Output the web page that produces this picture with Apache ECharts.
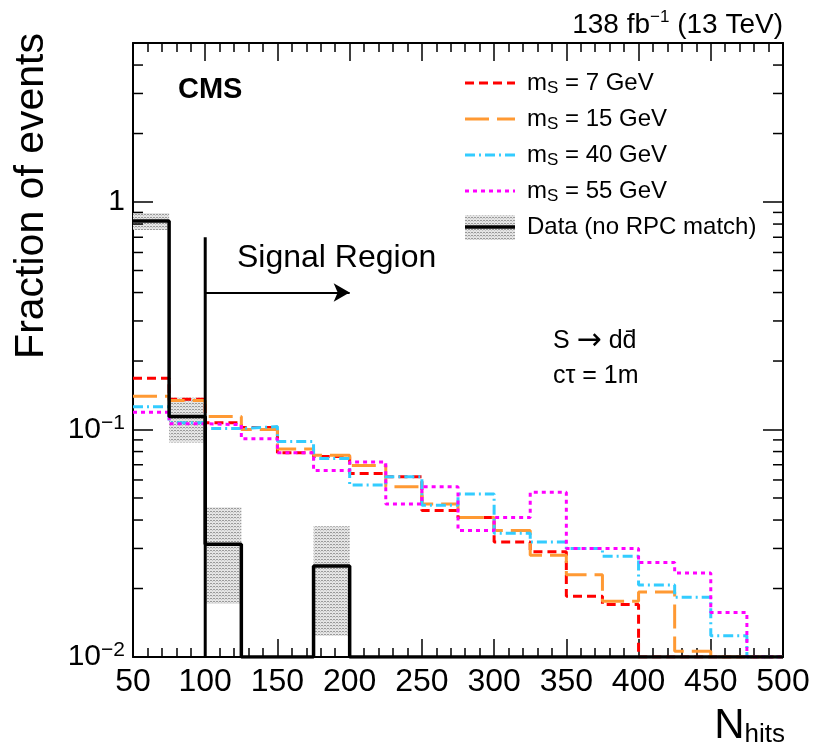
<!DOCTYPE html>
<html>
<head>
<meta charset="utf-8">
<script src="https://cdn.jsdelivr.net/npm/echarts@6/dist/echarts.min.js"></script>
<style>
  html, body { margin: 0; padding: 0; background: #fff; }
  #chart { width: 814px; height: 748px; }
</style>
</head>
<body>
<div id="chart"></div>
<script>
// bin left edges (25 hits wide), last edge closes the histogram
const binEdges = [50, 75, 100, 125, 150, 175, 200, 225, 250, 275, 300, 325, 350, 375, 400, 425, 450, 475];
const xMax = 500;
const yMin = 0.01;
const yMax = 5;

// fraction of events per bin
const ms7 = [0.168, 0.136, 0.107, 0.102, 0.079, 0.076, 0.064, 0.062, 0.044, 0.041, 0.032, 0.029, 0.0185, 0.017, 0, 0, 0, 0];
const ms15 = [0.140, 0.134, 0.114, 0.100, 0.082, 0.077, 0.0695, 0.056, 0.047, 0.041, 0.036, 0.028, 0.023, 0.0176, 0.0193, 0.0106, 0, 0];
const ms40 = [0.126, 0.107, 0.101, 0.103, 0.0886, 0.0746, 0.057, 0.062, 0.0465, 0.052, 0.035, 0.032, 0.030, 0.0277, 0.0207, 0.0183, 0.0124, 0];
const ms55 = [0.119, 0.106, 0.105, 0.091, 0.079, 0.066, 0.072, 0.047, 0.056, 0.036, 0.041, 0.053, 0.030, 0.030, 0.026, 0.0234, 0.0157, 0];
const dataVals = [0.826, 0.114, 0.0313, 0, 0, 0.0251, 0, 0, 0, 0, 0, 0, 0, 0, 0, 0, 0, 0];
const dataLo = [0.754, 0.0877, 0.0171, 0, 0, 0.0124, 0, 0, 0, 0, 0, 0, 0, 0, 0, 0, 0, 0];
const dataHi = [0.895, 0.138, 0.0455, 0, 0, 0.0376, 0, 0, 0, 0, 0, 0, 0, 0, 0, 0, 0, 0];

const massLabels = ['7', '15', '40', '55'];
const minorTickVals = [0.02, 0.03, 0.04, 0.05, 0.06, 0.07, 0.08, 0.09,
  0.2, 0.3, 0.4, 0.5, 0.6, 0.7, 0.8, 0.9, 2, 3, 4];

// signal region marker
const srLine = [[100, 0.7], [100, yMin]];
const srArrow = [[100, 0.4], [200, 0.4]];

const FONT = 'Liberation Sans, Arial, sans-serif';

// hatched fill like ROOT style 3001-ish
function makeHatch() {
  const c = document.createElement('canvas');
  c.width = 6; c.height = 3;
  const ctx = c.getContext('2d');
  ctx.fillStyle = '#e4e4e4';
  ctx.fillRect(0, 0, 6, 3);
  ctx.fillStyle = '#9a9a9a';
  [0, 1, 3, 4].forEach(x => ctx.fillRect(x, 1, 1, 1));
  ctx.fillStyle = '#c4c4c4';
  [2, 5].forEach(x => ctx.fillRect(x, 2, 1, 1));
  return { type: 'pattern', image: c, repeat: 'repeat' };
}
const hatch = makeHatch();

// histogram outline as step points
function steps(vals) {
  const pts = binEdges.map((x, i) => [x, Math.max(vals[i], yMin)]);
  pts.push([xMax, Math.max(vals[vals.length - 1], yMin)]);
  return pts;
}

function histSeries(name, vals, color, dash) {
  return {
    name: name,
    type: 'line',
    step: 'end',
    showSymbol: false,
    data: steps(vals),
    lineStyle: { color: color, width: 3, type: dash },
    z: 3,
  };
}

const signalStyles = [
  { color: '#ff0000', dash: [9, 5] },
  { color: '#ff9933', dash: [24, 8] },
  { color: '#33ccff', dash: [10, 4, 2, 4] },
  { color: '#ff00ff', dash: [4, 4] },
];

const bandData = binEdges
  .map((x, i) => [x, binEdges[i + 1] ?? xMax, dataLo[i], dataHi[i]])
  .filter(d => d[3] > 0);

const chart = echarts.init(document.getElementById('chart'));

const xAxisBase = {
  type: 'value',
  min: 50,
  max: xMax,
  interval: 50,
  axisLine: { lineStyle: { color: '#000', width: 2 } },
  axisTick: { inside: true, length: 18, lineStyle: { color: '#000', width: 1.5 } },
  minorTick: { show: true, splitNumber: 5, length: 9, lineStyle: { color: '#000', width: 1.5 } },
  splitLine: { show: false },
};
const yAxisBase = {
  type: 'log',
  logBase: 10,
  min: yMin,
  max: yMax,
  axisLine: { lineStyle: { color: '#000', width: 2 } },
  axisTick: { inside: true, length: 20, lineStyle: { color: '#000', width: 1.5 } },
  splitLine: { show: false },
};

function legendRow(i, y) {
  const st = signalStyles[i];
  return [
    {
      type: 'line',
      shape: { x1: 465, y1: y, x2: 515, y2: y },
      style: { stroke: st.color, lineWidth: 3, lineDash: st.dash },
    },
    {
      type: 'text', x: 527, y: y,
      style: {
        text: '{m|m}{s|S}{t| = ' + massLabels[i] + ' GeV}',
        verticalAlign: 'middle',
        rich: {
          m: { fontSize: 24, fontFamily: FONT, lineHeight: 28, fill: '#000' },
          s: { fontSize: 17, fontFamily: FONT, lineHeight: 12, verticalAlign: 'bottom', fill: '#000' },
          t: { fontSize: 24, fontFamily: FONT, lineHeight: 28, fill: '#000' },
        },
      },
    },
  ];
}

const legendRowsY = [83, 119, 155, 191, 227];
let legendEls = [];
massLabels.forEach((m, i) => { legendEls = legendEls.concat(legendRow(i, legendRowsY[i])); });
legendEls.push(
  { type: 'rect', shape: { x: 465, y: 215, width: 50, height: 25 }, style: { fill: hatch } },
  { type: 'line', shape: { x1: 465, y1: 227, x2: 515, y2: 227 }, style: { stroke: '#000', lineWidth: 3.5 } },
  {
    type: 'text', x: 527, y: 227,
    style: { text: 'Data (no RPC match)', font: '24px ' + FONT, fill: '#000', verticalAlign: 'middle' },
  }
);

chart.setOption({
  animation: false,
  backgroundColor: '#fff',
  grid: { left: 133, top: 43, width: 650, height: 614, containLabel: false },
  xAxis: [
    Object.assign({}, xAxisBase, {
      position: 'bottom',
      axisLabel: {
        fontSize: 32, fontFamily: FONT, color: '#000', margin: 9,
        showMinLabel: true, showMaxLabel: true, hideOverlap: false,
      },
    }),
    Object.assign({}, xAxisBase, { position: 'top', axisLabel: { show: false } }),
  ],
  yAxis: [
    Object.assign({}, yAxisBase, {
      position: 'left',
      axisLabel: {
        margin: 8,
        formatter: function (v) {
          const e = Math.log10(v);
          if (Math.abs(e - Math.round(e)) > 1e-6) return '';
          const n = Math.round(e);
          if (n === 0) return '{b|1}';
          return '{b|10}{s|' + (n < 0 ? '\u2212' : '') + Math.abs(n) + '}';
        },
        rich: {
          b: { fontSize: 30, fontFamily: FONT, color: '#000', lineHeight: 34 },
          s: { fontSize: 21, fontFamily: FONT, color: '#000', lineHeight: 14, verticalAlign: 'top' },
        },
      },
    }),
    Object.assign({}, yAxisBase, { position: 'right', axisLabel: { show: false } }),
  ],
  series: [
    {
      name: 'band',
      type: 'custom',
      data: bandData,
      encode: { x: [0, 1], y: [2, 3] },
      renderItem: function (params, api) {
        const p0 = api.coord([api.value(0), api.value(3)]);
        const p1 = api.coord([api.value(1), api.value(2)]);
        return {
          type: 'rect',
          shape: { x: p0[0], y: p0[1], width: p1[0] - p0[0], height: p1[1] - p0[1] },
          style: { fill: hatch },
        };
      },
      z: 1,
      silent: true,
    },
    histSeries('m_S = 7 GeV', ms7, signalStyles[0].color, signalStyles[0].dash),
    histSeries('m_S = 15 GeV', ms15, signalStyles[1].color, signalStyles[1].dash),
    histSeries('m_S = 40 GeV', ms40, signalStyles[2].color, signalStyles[2].dash),
    histSeries('m_S = 55 GeV', ms55, signalStyles[3].color, signalStyles[3].dash),
    {
      name: 'Data (no RPC match)',
      type: 'line',
      step: 'end',
      showSymbol: false,
      data: steps(dataVals),
      lineStyle: { color: '#000', width: 3.5 },
      z: 4,
    },
    {
      name: 'signal region',
      type: 'line',
      showSymbol: false,
      data: srLine,
      lineStyle: { color: '#000', width: 3 },
      z: 4,
      markLine: {
        silent: true,
        symbol: ['none', 'arrow'],
        symbolSize: [14, 16],
        label: { show: false },
        lineStyle: { color: '#000', width: 2, type: 'solid' },
        data: [[{ coord: srArrow[0] }, { coord: srArrow[1] }]],
      },
    },
    {
      name: 'minor ticks',
      type: 'custom',
      data: minorTickVals.map(v => [50, v]),
      encode: { x: 0, y: 1 },
      renderItem: function (params, api) {
        const l = api.coord([50, api.value(1)]);
        const r = api.coord([xMax, api.value(1)]);
        const st = { stroke: '#000', lineWidth: 1.5 };
        return {
          type: 'group',
          children: [
            { type: 'line', shape: { x1: l[0], y1: l[1], x2: l[0] + 10, y2: l[1] }, style: st },
            { type: 'line', shape: { x1: r[0] - 10, y1: r[1], x2: r[0], y2: r[1] }, style: st },
          ],
        };
      },
      z: 5,
      silent: true,
    },
  ],
  graphic: [
    {
      type: 'text', x: 32, y: 33, rotation: Math.PI / 2,
      style: { text: 'Fraction of events', font: '41px ' + FONT, fill: '#000', align: 'right', verticalAlign: 'middle' },
    },
    {
      type: 'text', x: 785, y: 726,
      style: {
        text: '{n|N}{s|hits}',
        align: 'right',
        verticalAlign: 'middle',
        rich: {
          n: { fontSize: 42, fontFamily: FONT, lineHeight: 44, fill: '#000' },
          s: { fontSize: 26, fontFamily: FONT, lineHeight: 20, verticalAlign: 'bottom', fill: '#000' },
        },
      },
    },
    {
      type: 'text', x: 783, y: 25,
      style: {
        text: '{a|138 fb}{s|\u22121}{a| (13 TeV)}',
        align: 'right',
        verticalAlign: 'middle',
        rich: {
          a: { fontSize: 28, fontFamily: FONT, lineHeight: 32, fill: '#000' },
          s: { fontSize: 17, fontFamily: FONT, lineHeight: 14, verticalAlign: 'top', fill: '#000' },
        },
      },
    },
    {
      type: 'text', x: 178, y: 90,
      style: { text: 'CMS', font: 'bold 29px ' + FONT, fill: '#000', verticalAlign: 'middle' },
    },
    {
      type: 'text', x: 237, y: 258,
      style: { text: 'Signal Region', font: '32px ' + FONT, fill: '#000', verticalAlign: 'middle' },
    },
    {
      type: 'text', x: 553, y: 341,
      style: {
        text: '{a|S }{r|\u2192}{a| dd\u0304}',
        verticalAlign: 'middle',
        rich: {
          a: { fontSize: 25, fontFamily: FONT, lineHeight: 30, fill: '#000' },
          r: { fontSize: 30, fontFamily: 'DejaVu Sans', lineHeight: 30, fill: '#000' },
        },
      },
    },
    {
      type: 'text', x: 553, y: 376,
      style: { text: 'c\u03c4 = 1m', font: '25px ' + FONT, fill: '#000', verticalAlign: 'middle' },
    },
    { type: 'group', children: legendEls },
  ],
});
</script>
</body>
</html>
